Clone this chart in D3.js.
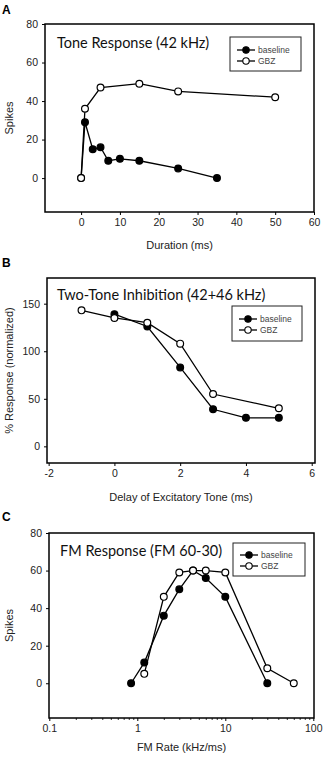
<!DOCTYPE html>
<html><head><meta charset="utf-8">
<script src="https://cdn.jsdelivr.net/npm/d3@7"></script>
<style>
html,body{margin:0;padding:0;background:#fff;}
svg{display:block;}
</style></head>
<body>
<svg id="chart" width="323" height="758"></svg>
<script>
// ---- Panel A: Tone Response (42 kHz) ----
const durationBase = [0, 1, 3, 5, 7, 10, 15, 25, 35];
const spikesBaseA  = [0, 29, 15, 16, 9, 10, 9, 5, 0];
const durationGbz  = [0, 1, 5, 15, 25, 50];
const spikesGbzA   = [0, 36, 47, 49, 45, 42];
const ticksXA = [0, 10, 20, 30, 40, 50, 60];
const ticksYA = [0, 20, 40, 60, 80];

// ---- Panel B: Two-Tone Inhibition (42+46 kHz) ----
const delayBase = [0, 1, 2, 3, 4, 5];
const respBaseB = [139, 126, 83, 39, 30, 30];
const delayGbz  = [-1, 0, 1, 2, 3, 5];
const respGbzB  = [143, 135, 130, 108, 55, 40];
const ticksXB = [-2, 0, 2, 4, 6];
const ticksYB = [0, 50, 100, 150];

// ---- Panel C: FM Response (FM 60-30) ----
const fmRateBase = [0.85, 1.2, 2, 3, 4.3, 6, 10, 30];
const spikesBaseC = [0, 11, 36, 50, 60, 56, 46, 0];
const fmRateGbz  = [1.2, 2, 3, 4.3, 6, 10, 30, 60];
const spikesGbzC = [5, 46, 59, 60, 60, 59, 8, 0];
const ticksXC = [0.1, 1, 10, 100];
const ticksYC = [0, 20, 40, 60, 80];

const seriesNames = ["baseline", "GBZ"];
const titles = ["Tone Response (42 kHz)", "Two-Tone Inhibition (42+46 kHz)", "FM Response (FM 60-30)"];
const xTitles = ["Duration (ms)", "Delay of Excitatory Tone (ms)", "FM Rate (kHz/ms)"];
const yTitles = ["Spikes", "% Response (normalized)", "Spikes"];
const letters = ["A", "B", "C"];

const svg = d3.select("#chart");
const tickFont = "'Liberation Sans', Arial, sans-serif";

function panel(cfg) {
  const g = svg.append("g");
  const {x, y, frame} = cfg;
  g.append("text").attr("x", 2).attr("y", cfg.letterY).text(cfg.letter)
    .attr("font-family", tickFont).attr("font-weight", "bold").attr("font-size", 12).attr("fill", "#000");

  const xa = d3.axisBottom(x).tickValues(cfg.ticksX).tickSize(3).tickPadding(4)
    .tickFormat(d => String(d));
  const gx = g.append("g").attr("transform", `translate(0,${frame.y1})`).call(xa);
  if (cfg.minorX) {
    const gm = g.append("g").attr("transform", `translate(0,${frame.y1})`)
      .call(d3.axisBottom(x).tickValues(cfg.minorX).tickSize(2).tickFormat(""));
    gm.select(".domain").remove();
    gm.selectAll("line").attr("stroke", "#333");
  }
  const ya = d3.axisLeft(y).tickValues(cfg.ticksY).tickSize(3).tickPadding(4).tickFormat(d => String(d));
  const gy = g.append("g").attr("transform", `translate(${frame.x0},0)`).call(ya);
  [gx, gy].forEach(a => {
    a.select(".domain").remove();
    a.selectAll("text").attr("font-family", tickFont).attr("font-size", 10.5).attr("fill", "#222");
    a.selectAll("line").attr("stroke", "#000");
  });

  g.append("rect").attr("x", frame.x0).attr("y", frame.y0)
    .attr("width", frame.x1 - frame.x0).attr("height", frame.y1 - frame.y0)
    .attr("fill", "none").attr("stroke", "#000").attr("stroke-width", 1.5);

  g.append("text").attr("x", (frame.x0 + frame.x1) / 2).attr("y", cfg.xTitleY)
    .attr("text-anchor", "middle").attr("font-family", tickFont).attr("font-size", 11).attr("fill", "#222")
    .text(cfg.xTitle);
  g.append("text").attr("transform", `translate(13,${(frame.y0 + frame.y1) / 2}) rotate(-90)`)
    .attr("text-anchor", "middle").attr("font-family", tickFont).attr("font-size", 11).attr("fill", "#222")
    .text(cfg.yTitle);

  g.append("text").attr("x", cfg.titleX).attr("y", cfg.titleY)
    .attr("font-family", "Lato, 'Open Sans', sans-serif").attr("font-size", 14.5).attr("fill", "#111")
    .text(cfg.title);

  const line = d3.line().x(d => x(d[0])).y(d => y(d[1]));
  cfg.series.forEach(s => {
    g.append("path").datum(d3.zip(s.xs, s.ys)).attr("d", line).attr("fill", "none")
      .attr("stroke", "#000").attr("stroke-width", 1.3);
  });
  cfg.series.forEach((s, i) => {
    g.selectAll(null).data(d3.zip(s.xs, s.ys)).join("circle")
      .attr("cx", d => x(d[0])).attr("cy", d => y(d[1])).attr("r", 3.4)
      .attr("fill", i === 0 ? "#000" : "#fff").attr("stroke", "#000").attr("stroke-width", 1.2);
  });

  const L = cfg.legend;
  const lg = g.append("g");
  lg.append("rect").attr("x", L.x0).attr("y", L.y0).attr("width", L.x1 - L.x0).attr("height", L.y1 - L.y0)
    .attr("fill", "#fff").attr("stroke", "#222").attr("stroke-width", 1);
  seriesNames.forEach((name, i) => {
    const yy = L.rows[i];
    lg.append("line").attr("x1", L.x0 + 7).attr("x2", L.x0 + 25).attr("y1", yy).attr("y2", yy)
      .attr("stroke", "#000").attr("stroke-width", 1.3);
    lg.append("circle").attr("cx", L.x0 + 16).attr("cy", yy).attr("r", 3.2)
      .attr("fill", i === 0 ? "#000" : "#fff").attr("stroke", "#000").attr("stroke-width", 1.1);
    lg.append("text").attr("x", L.x0 + 28).attr("y", yy + 3).text(name)
      .attr("font-family", tickFont).attr("font-size", 8.5).attr("fill", "#444");
  });
}

// Panel A
{
  const frame = {x0: 45, x1: 314, y0: 24, y1: 212};
  const x = d3.scaleLinear().domain([-9.3, 60]).range([frame.x0, frame.x1]);
  const y = d3.scaleLinear().domain([-17.6, 80]).range([frame.y1, frame.y0]);
  panel({x, y, frame, letter: letters[0], letterY: 14, ticksX: ticksXA, ticksY: ticksYA,
    xTitle: xTitles[0], yTitle: yTitles[0], xTitleY: 249, title: titles[0], titleX: 57, titleY: 48,
    series: [{xs: durationBase, ys: spikesBaseA}, {xs: durationGbz, ys: spikesGbzA}],
    legend: {x0: 230, x1: 301, y0: 37, y1: 71, rows: [50, 61]}});
}
// Panel B
{
  const frame = {x0: 47, x1: 315, y0: 278, y1: 463};
  const x = d3.scaleLinear().domain([-2.05, 6.1]).range([frame.x0, frame.x1]);
  const y = d3.scaleLinear().domain([-17.5, 177]).range([frame.y1, frame.y0]);
  panel({x, y, frame, letter: letters[1], letterY: 267, ticksX: ticksXB, ticksY: ticksYB,
    xTitle: xTitles[1], yTitle: yTitles[1], xTitleY: 501, title: titles[1], titleX: 57, titleY: 300,
    series: [{xs: delayBase, ys: respBaseB}, {xs: delayGbz, ys: respGbzB}],
    legend: {x0: 232, x1: 302, y0: 306, y1: 341, rows: [319, 330]}});
}
// Panel C
{
  const frame = {x0: 49, x1: 314, y0: 533, y1: 718};
  const x = d3.scaleLog().domain([0.1, 100]).range([49.3, 313.3]);
  const y = d3.scaleLinear().domain([-18.5, 80]).range([frame.y1, frame.y0]);
  const minor = [];
  [0.1, 1, 10].forEach(d => { for (let k = 2; k <= 9; k++) minor.push(+(d * k).toPrecision(3)); });
  panel({x, y, frame, letter: letters[2], letterY: 521, ticksX: ticksXC, ticksY: ticksYC, minorX: minor,
    xTitle: xTitles[2], yTitle: yTitles[2], xTitleY: 751, title: titles[2], titleX: 60, titleY: 556,
    series: [{xs: fmRateBase, ys: spikesBaseC}, {xs: fmRateGbz, ys: spikesGbzC}],
    legend: {x0: 233, x1: 305, y0: 543, y1: 576, rows: [555, 566]}});
}
</script>
</body></html>
